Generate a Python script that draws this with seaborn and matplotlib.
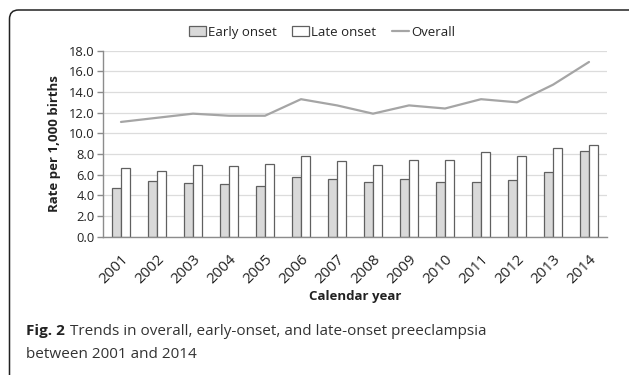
import pandas as pd
import matplotlib.pyplot as plt
import seaborn as sns
from matplotlib.patches import Patch, FancyBboxPatch
from matplotlib.lines import Line2D

# Values (rate per 1,000 births)
years = [str(y) for y in range(2001, 2015)]
early_onset = [4.7, 5.4, 5.2, 5.1, 4.9, 5.8, 5.6, 5.3, 5.6, 5.3, 5.3, 5.5, 6.3, 8.3]
late_onset = [6.6, 6.4, 6.9, 6.8, 7.0, 7.8, 7.3, 6.9, 7.4, 7.4, 8.2, 7.8, 8.6, 8.9]
overall = [11.1, 11.5, 11.9, 11.7, 11.7, 13.3, 12.7, 11.9, 12.7, 12.4, 13.3, 13.0, 14.7, 16.9]
y_ticks = [0, 2, 4, 6, 8, 10, 12, 14, 16, 18]

sns.set_theme(style='white')
plt.rcParams['font.family'] = ['Open Sans', 'DejaVu Sans']

bars = pd.DataFrame({
    'year': years * 2,
    'rate': early_onset + late_onset,
    'type': ['Early onset'] * len(years) + ['Late onset'] * len(years),
})
line = pd.DataFrame({'year': years, 'overall': overall})

W, H = 629, 375
fig = plt.figure(figsize=(W / 100, H / 100), dpi=100)
ax = fig.add_axes([103 / W, 1 - 236.7 / H, 504 / W, 186.1 / H])

bar_colors = {'Early onset': '#d9d9d9', 'Late onset': '#ffffff'}
sns.barplot(data=bars, x='year', y='rate', hue='type', palette=bar_colors,
            width=0.5, edgecolor='#606060', linewidth=0.9, legend=False, ax=ax)
sns.pointplot(data=line, x='year', y='overall', color='#a5a5a5', markers='',
              linewidth=1.6, errorbar=None, ax=ax)

# axes styling
ax.set_ylim(0, 18)
ax.set_xlim(-0.5, len(years) - 0.5)
ax.set_yticks(y_ticks)
ax.set_yticklabels([f'{v:.1f}' for v in y_ticks], fontsize=9.3, color='#222222')
ax.yaxis.grid(True, color='#dcdcdc', linewidth=0.9)
ax.set_axisbelow(True)
for s in ['top', 'right']:
    ax.spines[s].set_visible(False)
for s in ['left', 'bottom']:
    ax.spines[s].set_color('#8c8c8c')
    ax.spines[s].set_linewidth(1.0)

ax.set_xticks(range(len(years)))
ax.set_xticklabels(years, rotation=45, ha='right', rotation_mode='anchor',
                   fontsize=10.8, color='#222222')
ax.set_xticks([i - 0.5 for i in range(len(years) + 1)], minor=True)
ax.tick_params(axis='x', which='major', length=0, pad=11)
ax.tick_params(axis='x', which='minor', length=5, color='#8c8c8c', width=1.0, direction='out')
ax.tick_params(axis='y', length=4, color='#8c8c8c', width=1.0, direction='out', pad=2, left=True)

ax.set_xlabel('Calendar year', fontsize=9.5, fontweight='bold', color='#222222', labelpad=2)
ax.set_ylabel('Rate per 1,000 births', fontsize=9.5, fontweight='bold', color='#222222', labelpad=6)

handles = [
    Patch(facecolor='#d9d9d9', edgecolor='#606060', linewidth=0.9),
    Patch(facecolor='#ffffff', edgecolor='#606060', linewidth=0.9),
    Line2D([0], [0], color='#a5a5a5', linewidth=1.6),
]
fig.legend(handles, ['Early onset', 'Late onset', 'Overall'], loc='center',
           bbox_to_anchor=(322 / W, 1 - 32.5 / H), ncol=3, frameon=False,
           fontsize=9.5, handlelength=1.3, handleheight=0.8, handletextpad=0.15,
           columnspacing=1.2, labelcolor='#222222')

# rounded frame around the figure: only left and top edges fall inside
frame = FancyBboxPatch((9.5 / W, -0.1), 1.2, 1.1 - 10 / H,
                       boxstyle=f'round,pad=0,rounding_size={9 / W}',
                       mutation_aspect=W / H, transform=fig.transFigure,
                       facecolor='none', edgecolor='#222222', linewidth=1.1)
fig.add_artist(frame)

# caption
cap_size = 11.0
t1 = fig.text(26 / W, 1 - 331.5 / H, 'Fig. 2', fontsize=cap_size, fontweight='bold',
              color='#222222', va='center')
fig.canvas.draw()
bb = t1.get_window_extent()
fig.text((bb.x1 + 5) / W, 1 - 331.5 / H,
         'Trends in overall, early-onset, and late-onset preeclampsia',
         fontsize=cap_size, color='#333333', va='center')
fig.text(26 / W, 1 - 355 / H, 'between 2001 and 2014', fontsize=cap_size,
         color='#333333', va='center')

fig.savefig('out.png', dpi=100)
